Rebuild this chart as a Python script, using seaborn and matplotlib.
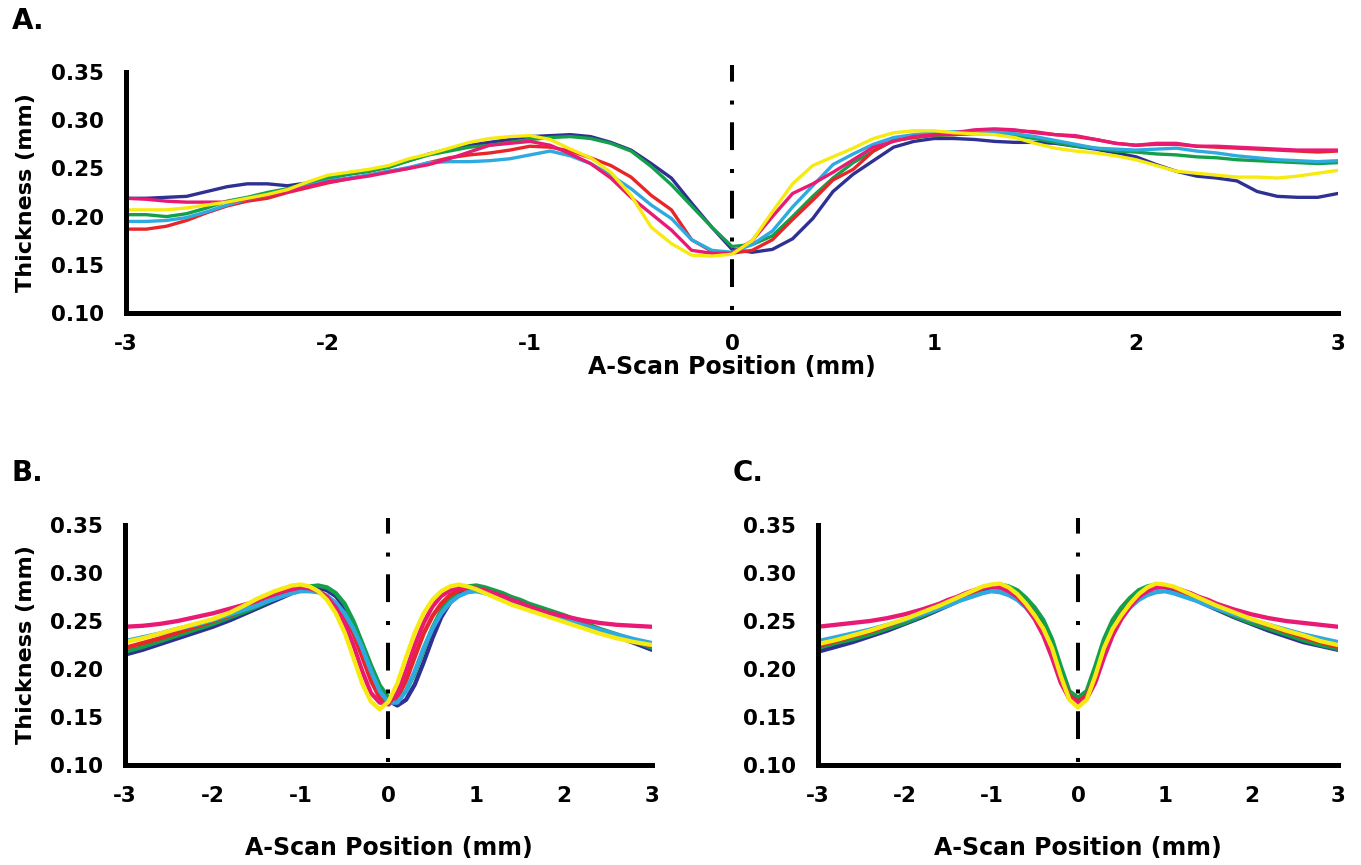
import numpy as np
import pandas as pd
import matplotlib
matplotlib.use("Agg")
import matplotlib.pyplot as plt
import seaborn as sns

# ---------------- data ----------------
SERIES = ["navy", "green", "red", "cyan", "pink", "yellow"]
PALETTE = {"navy": "#2e3192", "green": "#14a04a", "red": "#e8262a",
           "cyan": "#2eaae1", "pink": "#e81a74", "yellow": "#f7ea10"}

X_A = [-3.0, -2.9, -2.8, -2.7, -2.6, -2.5, -2.4, -2.3, -2.2, -2.1, -2.0,
       -1.9, -1.8, -1.7, -1.6, -1.5, -1.4, -1.3, -1.2, -1.1, -1.0,
       -0.9, -0.8, -0.7, -0.6, -0.5, -0.4, -0.3, -0.2, -0.1, 0.0,
       0.1, 0.2, 0.3, 0.4, 0.5, 0.6, 0.7, 0.8, 0.9, 1.0,
       1.1, 1.2, 1.3, 1.4, 1.5, 1.6, 1.7, 1.8, 1.9, 2.0,
       2.1, 2.2, 2.3, 2.4, 2.5, 2.6, 2.7, 2.8, 2.9, 3.0]

A_NAVY = [0.219, 0.219, 0.220, 0.221, 0.226, 0.231, 0.234, 0.234, 0.232, 0.235, 0.240,
          0.244, 0.247, 0.252, 0.258, 0.265, 0.270, 0.274, 0.277, 0.280, 0.283,
          0.284, 0.285, 0.283, 0.277, 0.269, 0.255, 0.240, 0.214, 0.189, 0.166,
          0.163, 0.166, 0.177, 0.198, 0.226, 0.244, 0.258, 0.272, 0.278, 0.281,
          0.281, 0.280, 0.278, 0.277, 0.277, 0.276, 0.273, 0.270, 0.266, 0.262,
          0.254, 0.247, 0.242, 0.240, 0.237, 0.226, 0.221, 0.220, 0.220, 0.224]
A_GREEN = [0.202, 0.202, 0.200, 0.203, 0.209, 0.216, 0.220, 0.225, 0.229, 0.235, 0.240,
           0.244, 0.247, 0.251, 0.258, 0.264, 0.268, 0.272, 0.274, 0.277, 0.280,
           0.282, 0.283, 0.281, 0.276, 0.268, 0.252, 0.233, 0.211, 0.189, 0.169,
           0.171, 0.180, 0.200, 0.221, 0.240, 0.256, 0.268, 0.279, 0.282, 0.284,
           0.285, 0.286, 0.286, 0.284, 0.281, 0.277, 0.273, 0.271, 0.268, 0.267,
           0.265, 0.264, 0.262, 0.261, 0.259, 0.258, 0.257, 0.256, 0.255, 0.256]
A_RED = [0.187, 0.187, 0.190, 0.196, 0.204, 0.211, 0.216, 0.219, 0.225, 0.230, 0.235,
         0.239, 0.243, 0.247, 0.250, 0.256, 0.261, 0.264, 0.266, 0.269, 0.273,
         0.272, 0.268, 0.261, 0.253, 0.241, 0.222, 0.207, 0.176, 0.164, 0.162,
         0.165, 0.176, 0.197, 0.217, 0.238, 0.249, 0.268, 0.279, 0.282, 0.285,
         0.285, 0.287, 0.289, 0.289, 0.288, 0.285, 0.283, 0.280, 0.276, 0.274,
         0.275, 0.275, 0.273, 0.272, 0.271, 0.270, 0.269, 0.268, 0.267, 0.268]
A_CYAN = [0.195, 0.195, 0.196, 0.199, 0.205, 0.212, 0.218, 0.222, 0.227, 0.232, 0.237,
          0.240, 0.243, 0.247, 0.251, 0.256, 0.257, 0.257, 0.258, 0.260, 0.264,
          0.268, 0.263, 0.255, 0.243, 0.229, 0.212, 0.198, 0.176, 0.165, 0.163,
          0.171, 0.185, 0.210, 0.232, 0.254, 0.265, 0.275, 0.282, 0.285, 0.287,
          0.288, 0.288, 0.288, 0.286, 0.283, 0.279, 0.275, 0.271, 0.270, 0.269,
          0.270, 0.271, 0.268, 0.266, 0.263, 0.261, 0.259, 0.258, 0.257, 0.258]
A_PINK = [0.219, 0.218, 0.216, 0.215, 0.215, 0.215, 0.218, 0.222, 0.226, 0.231, 0.236,
          0.239, 0.242, 0.246, 0.250, 0.254, 0.260, 0.267, 0.274, 0.276, 0.278,
          0.274, 0.265, 0.255, 0.240, 0.220, 0.203, 0.186, 0.165, 0.162, 0.162,
          0.175, 0.200, 0.224, 0.234, 0.246, 0.259, 0.272, 0.278, 0.283, 0.285,
          0.287, 0.290, 0.291, 0.290, 0.287, 0.285, 0.284, 0.280, 0.276, 0.274,
          0.276, 0.276, 0.273, 0.273, 0.272, 0.271, 0.270, 0.269, 0.269, 0.269]
A_YELLOW = [0.207, 0.207, 0.207, 0.209, 0.212, 0.215, 0.219, 0.223, 0.228, 0.236, 0.243,
            0.246, 0.249, 0.253, 0.260, 0.265, 0.271, 0.277, 0.281, 0.283, 0.284,
            0.280, 0.270, 0.261, 0.246, 0.222, 0.189, 0.172, 0.160, 0.159, 0.161,
            0.175, 0.205, 0.234, 0.253, 0.262, 0.271, 0.281, 0.287, 0.289, 0.289,
            0.287, 0.286, 0.285, 0.282, 0.276, 0.271, 0.268, 0.266, 0.263, 0.259,
            0.253, 0.247, 0.245, 0.243, 0.241, 0.241, 0.240, 0.242, 0.245, 0.248]

X_BC = [-3.0, -2.8, -2.6, -2.4, -2.2, -2.0, -1.8, -1.6,
        -1.5, -1.4, -1.3, -1.2, -1.1, -1.0, -0.9, -0.8, -0.7, -0.6, -0.5, -0.4,
        -0.3, -0.2, -0.1, 0.0, 0.1, 0.2, 0.3, 0.4, 0.5, 0.6, 0.7, 0.8, 0.9,
        1.0, 1.1, 1.2, 1.3, 1.4, 1.5,
        1.6, 1.8, 2.0, 2.2, 2.4, 2.6, 2.8, 3.0]

B_NAVY = [0.215, 0.220, 0.226, 0.232, 0.238, 0.244, 0.251, 0.259,
          0.263, 0.267, 0.271, 0.275, 0.279, 0.282, 0.284, 0.285, 0.282, 0.276, 0.264, 0.248,
          0.226, 0.202, 0.180, 0.167, 0.162, 0.168, 0.184, 0.207, 0.232, 0.254, 0.269, 0.278, 0.283,
          0.285, 0.284, 0.281, 0.278, 0.274, 0.270,
          0.267, 0.261, 0.255, 0.248, 0.241, 0.234, 0.227, 0.220]
B_GREEN = [0.218, 0.223, 0.229, 0.235, 0.241, 0.247, 0.254, 0.261,
           0.265, 0.269, 0.273, 0.277, 0.281, 0.284, 0.286, 0.287, 0.285, 0.279, 0.268, 0.250,
           0.227, 0.204, 0.183, 0.170, 0.168, 0.177, 0.196, 0.220, 0.243, 0.261, 0.274, 0.282, 0.286,
           0.287, 0.285, 0.282, 0.279, 0.275, 0.272,
           0.268, 0.262, 0.256, 0.249, 0.242, 0.236, 0.229, 0.222]
B_RED = [0.222, 0.227, 0.232, 0.238, 0.244, 0.250, 0.256, 0.264,
         0.268, 0.272, 0.275, 0.278, 0.281, 0.283, 0.283, 0.281, 0.276, 0.268, 0.255, 0.237,
         0.213, 0.188, 0.170, 0.163, 0.170, 0.188, 0.213, 0.237, 0.255, 0.268, 0.277, 0.282, 0.284,
         0.283, 0.281, 0.278, 0.274, 0.270, 0.267,
         0.264, 0.258, 0.253, 0.247, 0.241, 0.235, 0.229, 0.224]
B_CYAN = [0.229, 0.233, 0.237, 0.242, 0.246, 0.251, 0.257, 0.263,
          0.266, 0.270, 0.273, 0.276, 0.279, 0.281, 0.281, 0.280, 0.276, 0.269, 0.258, 0.242,
          0.222, 0.198, 0.177, 0.165, 0.165, 0.177, 0.198, 0.222, 0.242, 0.258, 0.269, 0.276, 0.280,
          0.281, 0.279, 0.277, 0.273, 0.270, 0.266,
          0.263, 0.257, 0.252, 0.246, 0.241, 0.236, 0.231, 0.227]
B_PINK = [0.244, 0.245, 0.247, 0.250, 0.254, 0.258, 0.263, 0.268,
          0.271, 0.275, 0.278, 0.281, 0.283, 0.285, 0.284, 0.281, 0.275, 0.264, 0.248, 0.225,
          0.198, 0.175, 0.165, 0.164, 0.175, 0.198, 0.225, 0.248, 0.265, 0.276, 0.282, 0.285, 0.285,
          0.284, 0.282, 0.279, 0.276, 0.272, 0.269,
          0.265, 0.259, 0.255, 0.251, 0.248, 0.246, 0.245, 0.244]
B_YELLOW = [0.228, 0.232, 0.237, 0.242, 0.247, 0.252, 0.259, 0.268,
            0.273, 0.277, 0.281, 0.284, 0.287, 0.288, 0.286, 0.281, 0.272, 0.258, 0.238, 0.212,
            0.185, 0.166, 0.158, 0.166, 0.185, 0.212, 0.238, 0.258, 0.272, 0.281, 0.286, 0.288, 0.286,
            0.283, 0.279, 0.275, 0.271, 0.267, 0.264,
            0.261, 0.255, 0.249, 0.243, 0.237, 0.232, 0.228, 0.225]

C_NAVY = [0.218, 0.223, 0.228, 0.234, 0.240, 0.247, 0.254, 0.262,
          0.266, 0.270, 0.275, 0.279, 0.283, 0.285, 0.285, 0.283, 0.278, 0.270, 0.259, 0.245,
          0.224, 0.197, 0.174, 0.167, 0.174, 0.197, 0.224, 0.245, 0.259, 0.270, 0.278, 0.283, 0.285,
          0.285, 0.283, 0.279, 0.275, 0.270, 0.266,
          0.262, 0.254, 0.247, 0.240, 0.234, 0.228, 0.224, 0.220]
C_GREEN = [0.222, 0.227, 0.231, 0.236, 0.242, 0.248, 0.255, 0.263,
           0.267, 0.271, 0.276, 0.280, 0.284, 0.287, 0.288, 0.286, 0.282, 0.274, 0.264, 0.251,
           0.231, 0.203, 0.177, 0.170, 0.177, 0.203, 0.231, 0.251, 0.264, 0.274, 0.282, 0.286, 0.288,
           0.287, 0.284, 0.280, 0.276, 0.271, 0.267,
           0.263, 0.255, 0.248, 0.242, 0.236, 0.230, 0.225, 0.221]
C_RED = [0.224, 0.229, 0.234, 0.239, 0.245, 0.251, 0.257, 0.264,
         0.268, 0.272, 0.276, 0.280, 0.284, 0.286, 0.286, 0.283, 0.277, 0.268, 0.256, 0.241,
         0.219, 0.192, 0.172, 0.166, 0.172, 0.192, 0.219, 0.241, 0.256, 0.268, 0.277, 0.283, 0.286,
         0.286, 0.284, 0.280, 0.276, 0.272, 0.268,
         0.264, 0.257, 0.251, 0.245, 0.239, 0.233, 0.228, 0.223]
C_CYAN = [0.229, 0.233, 0.237, 0.241, 0.246, 0.251, 0.257, 0.263,
          0.266, 0.270, 0.273, 0.276, 0.279, 0.281, 0.280, 0.277, 0.272, 0.264, 0.253, 0.238,
          0.217, 0.190, 0.169, 0.163, 0.169, 0.190, 0.217, 0.238, 0.253, 0.264, 0.272, 0.277, 0.280,
          0.281, 0.279, 0.276, 0.273, 0.270, 0.266,
          0.263, 0.257, 0.251, 0.246, 0.241, 0.236, 0.232, 0.228]
C_PINK = [0.244, 0.246, 0.248, 0.250, 0.253, 0.257, 0.262, 0.268,
          0.272, 0.275, 0.279, 0.282, 0.285, 0.286, 0.285, 0.281, 0.275, 0.265, 0.252, 0.235,
          0.212, 0.186, 0.169, 0.165, 0.169, 0.186, 0.212, 0.235, 0.252, 0.265, 0.275, 0.281, 0.285,
          0.286, 0.285, 0.282, 0.279, 0.275, 0.272,
          0.268, 0.262, 0.257, 0.253, 0.250, 0.248, 0.246, 0.244]
C_YELLOW = [0.226, 0.230, 0.235, 0.240, 0.246, 0.252, 0.259, 0.266,
            0.270, 0.274, 0.278, 0.282, 0.286, 0.288, 0.289, 0.285, 0.278, 0.268, 0.256, 0.242,
            0.222, 0.193, 0.168, 0.160, 0.168, 0.193, 0.222, 0.242, 0.256, 0.268, 0.278, 0.285, 0.289,
            0.288, 0.286, 0.282, 0.278, 0.274, 0.270,
            0.266, 0.259, 0.252, 0.246, 0.240, 0.235, 0.229, 0.225]

XTICKS = [-3, -2, -1, 0, 1, 2, 3]
XTICK_LABELS = ["-3", "-2", "-1", "0", "1", "2", "3"]
YTICKS = [0.10, 0.15, 0.20, 0.25, 0.30, 0.35]
YTICK_LABELS = ["0.10", "0.15", "0.20", "0.25", "0.30", "0.35"]
XLABEL = "A-Scan Position (mm)"
YLABEL = "Thickness (mm)"

# ---------------- style ----------------
sns.set_theme(style="white")
plt.rcParams["font.family"] = ["DejaVu Sans"]
plt.rcParams["font.weight"] = "bold"
plt.rcParams["axes.unicode_minus"] = False
plt.rcParams["text.color"] = "black"
plt.rcParams["axes.labelcolor"] = "black"
plt.rcParams["xtick.color"] = "black"
plt.rcParams["ytick.color"] = "black"

W, H = 1361, 865
fig = plt.figure(figsize=(W / 100, H / 100), dpi=100)
fig.patch.set_facecolor("white")


def frac(l, t, r, b):
    return [l / W, 1 - b / H, (r - l) / W, (b - t) / H]


def panel(rect, x, data, lw, ylabel, ylab_px, xlab_top_px):
    ax = fig.add_axes(frac(*rect))
    frames = [pd.DataFrame({"x": x, "t": vals, "s": name}) for name, vals in data.items()]
    df = pd.concat(frames, ignore_index=True)
    sns.lineplot(data=df, x="x", y="t", hue="s", hue_order=SERIES, palette=PALETTE,
                 estimator=None, sort=False, legend=False, linewidth=lw, ax=ax)
    ax.set_xlim(-3, 3)
    ax.set_ylim(0.10, 0.35)
    # dash-dot reference line at the fovea (pattern starts at the bottom with a dot)
    ax.axvline(0, ymin=0, ymax=1.028, color="black", lw=2.9, clip_on=False, zorder=5,
               linestyle=(10.55, (6.9, 4.4, 1.0, 4.7)))
    sns.despine(ax=ax)
    for sp in ("left", "bottom"):
        ax.spines[sp].set_linewidth(3.6)
        ax.spines[sp].set_color("black")
        ax.spines[sp].set_capstyle("projecting")
    ax.set_xticks(XTICKS)
    ax.set_xticklabels(XTICK_LABELS)
    ax.set_yticks(YTICKS)
    ax.set_yticklabels(YTICK_LABELS)
    ax.tick_params(axis="both", which="major", direction="out", length=11, width=3.6,
                   color="black", labelsize=15.5, labelcolor="black")
    ax.tick_params(axis="y", pad=5)
    ax.tick_params(axis="x", pad=4)
    ax.set_xlabel(XLABEL, fontsize=17, fontweight="bold", color="black")
    l, t, r, b = rect
    ax.xaxis.set_label_coords(0.5, -(xlab_top_px - b) / (b - t))
    if ylabel:
        ax.set_ylabel(YLABEL, fontsize=16, fontweight="bold", color="black")
        ax.yaxis.set_label_coords(-(l - ylab_px) / (r - l), 0.5)
    else:
        ax.set_ylabel("")
    ax.set_facecolor("white")
    return ax


panel((126, 72, 1338, 313), X_A,
      {"navy": A_NAVY, "green": A_GREEN, "red": A_RED, "cyan": A_CYAN,
       "pink": A_PINK, "yellow": A_YELLOW}, 2.4, True, 36, 355)
panel((125, 525, 652, 765), X_BC,
      {"navy": B_NAVY, "green": B_GREEN, "red": B_RED, "cyan": B_CYAN,
       "pink": B_PINK, "yellow": B_YELLOW}, 3.1, True, 36, 836)
panel((818, 525, 1338, 765), X_BC,
      {"navy": C_NAVY, "green": C_GREEN, "red": C_RED, "cyan": C_CYAN,
       "pink": C_PINK, "yellow": C_YELLOW}, 3.1, False, 0, 836)

for lab, px, py in (("A.", 12, 7), ("B.", 12, 459), ("C.", 733, 459)):
    fig.text(px / W, 1 - py / H, lab, fontsize=20, fontweight="bold", va="top", ha="left",
             color="black")

fig.savefig("out.png", dpi=100, facecolor="white")
